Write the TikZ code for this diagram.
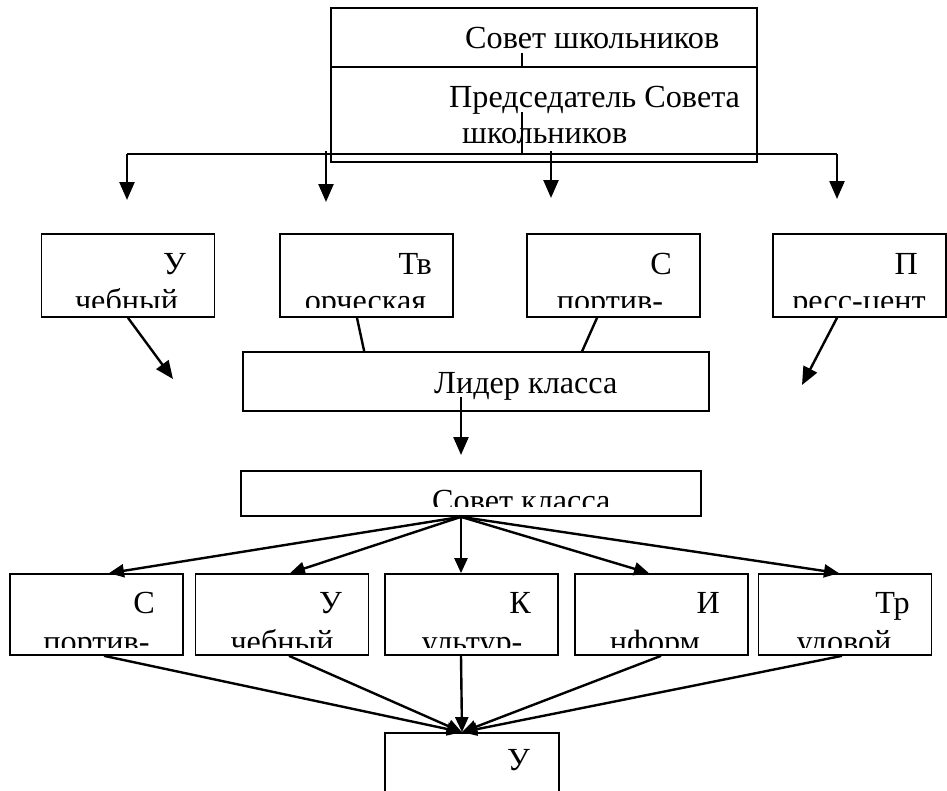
\documentclass[tikz,border=0pt]{standalone}
\usepackage{fontspec}
\setmainfont{Liberation Serif}
\usetikzlibrary{arrows.meta,calc}

\begin{document}
\begin{tikzpicture}[x=1pt,y=-1pt,
    box/.style={draw, line width=1.7pt, inner sep=0pt, minimum width=173pt, minimum height=83pt},
    txt/.style={inner sep=0pt, font=\fontsize{32.2}{38}\selectfont},
    link/.style={line width=2.4pt},
    arr/.style={line width=2.4pt, -{Triangle[length=18pt,width=15pt]}},
    fan/.style={line width=2.4pt, -{Triangle[length=15pt,width=13pt]}},
    tick/.style={line width=1.3pt}]
      \clip (0,0) rectangle (947,790);
      \node[box, minimum width=426pt, minimum height=59pt] (sovet) at (544,37.5) {};
      \node[box, minimum width=426pt, minimum height=95pt] (pred) at (544,114.5) {};
      \node[txt, anchor=base west] (tsovet) at (465,48) {Совет школьников};
      \node[txt, anchor=base west] (tpred) at (449,107) {Председатель Совета};
      \node[txt, anchor=base west] (tshk) at (462,143) {школьников};
      \draw[tick] (522,53) -- (522,67);
      \draw[tick] (522,112) -- (522,153);
      \foreach \n/\x/\ya/\yb in {1/127/154/200, 2/326/151/202, 3/551/151/198, 4/837/154/199}{
        \coordinate (top\n) at (\x,\ya);
        \coordinate (end\n) at (\x,\yb);
        \draw[arr] (top\n) -- (end\n);
      }
      \draw[link] (top1) -- (top4 |- top1);
      \foreach \n/\cx/\first/\fx/\second/\sx in {uch/128/У/186/чебный/126.5, tvor/366.5/Тв/432/орческая/365.5, sport/613.5/С/672/портив-/610, press/859.5/П/918/ресс-цент/859}{
        \node[box] (\n) at (\cx,275.5) {};
        \begin{scope}
          \clip (\n.north west) rectangle ($(\n.south east)+(0,-10)$);
          \node[txt, anchor=base east] (\n-a) at (\fx,274) {\first};
          \node[txt, anchor=base] (\n-b) at (\sx,311) {\second};
        \end{scope}
      }
      \node[box, minimum width=466pt, minimum height=59pt] (lider) at (476,381.5) {};
      \node[txt, anchor=base west] (tlider) at (434,393) {Лидер класса};
      \coordinate (uchend) at (173,379);
      \coordinate (pressend) at (802,385);
      \coordinate (liderend) at (461,455);
      \draw[arr] (uch.south) -- (uchend);
      \draw[link] ($(tvor.south)+(-9.5,0)$) -- ($(lider.north west)+(122,0)$);
      \draw[link] ($(sport.south)+(-16.5,0)$) -- ($(lider.north west)+(340,0)$);
      \draw[arr] ($(press.south)+(-22.5,0)$) -- (pressend);
      \draw[arr] ($(lider.center)+(-15,15.5)$) -- (liderend);
      \node[box, minimum width=460pt, minimum height=45pt] (sovkl) at (471,493.5) {};
      \begin{scope}
        \clip (sovkl.north west) rectangle ($(sovkl.south east)+(0,-10)$);
        \node[txt, anchor=base west] (tsovkl) at (432,511) {Совет класса};
      \end{scope}
      \coordinate (fanst) at ($(sovkl.south)+(-10,0)$);
      \foreach \n/\cx/\first/\fx/\second/\sx/\ta in {spo/96.5/С/155/портив-/96.5/12.5, ucb/282/У/342/чебный/282/8, kul/471.5/К/531/ультур-/472/-10.5, inf/661.5/И/720/нформ/655/-12.5, trd/845/Тр/910/удовой/844/-6}{
        \node[box, minimum height=81pt] (\n) at (\cx,614.5) {};
        \begin{scope}
          \clip (\n.north west) rectangle ($(\n.south east)+(0,-8)$);
          \node[txt, anchor=base east] (\n-a) at (\fx,613) {\first};
          \node[txt, anchor=base] (\n-b) at (\sx,652) {\second};
        \end{scope}
        \draw[fan] (fanst) -- ($(\n.north)+(\ta,0)$);
      }
      \node[box, minimum width=174pt, minimum height=77pt] (uchas) at (472,771.5) {};
      \node[txt, anchor=base east] (tuchas) at (530,770) {У};
      \coordinate (meet) at ($(uchas.north)+(-10,0)$);
      \foreach \n/\tb in {spo/7.5, ucb/7, kul/-10.5, inf/-0.5, trd/-3}
        \draw[fan] ($(\n.south)+(\tb,0)$) -- (meet);
    \end{tikzpicture}
\end{document}
